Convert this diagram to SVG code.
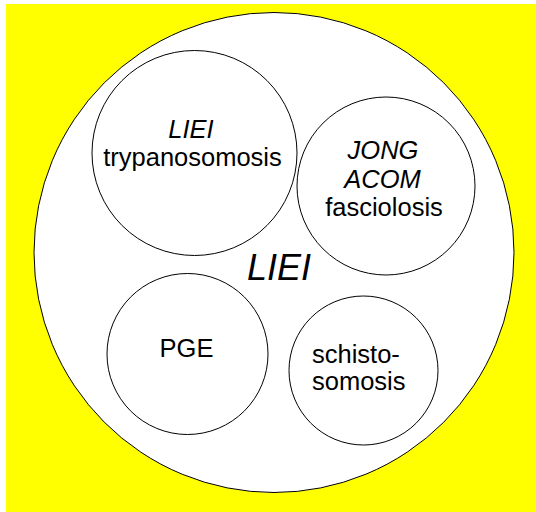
<svg xmlns="http://www.w3.org/2000/svg" width="536" height="512" viewBox="0 0 536 512">
<style>
.c{fill:#fff;stroke:#000;stroke-width:1}
.t{font-family:"Liberation Sans",Arial,sans-serif;font-size:25.5px;fill:#000;text-anchor:middle}
.i{font-style:italic}
</style>
<rect x="0" y="0" width="536" height="512" fill="#fff"/>
<rect x="6" y="4" width="530" height="508" fill="#ffff00"/>
<g id="liei-main">
<circle class="c" cx="274" cy="252.5" r="240"/>
<text class="t i" x="279" y="280" style="font-size:36px">LIEI</text>
</g>
<g id="trypanosomosis">
<circle class="c" cx="194.5" cy="153" r="102.5"/>
<text class="t i" x="191" y="138">LIEI</text>
<text class="t" x="192.5" y="166">trypanosomosis</text>
</g>
<g id="fasciolosis">
<circle class="c" cx="386" cy="186" r="89"/>
<text class="t i" x="383" y="159">JONG</text>
<text class="t i" x="382.5" y="188">ACOM</text>
<text class="t" x="384" y="216">fasciolosis</text>
</g>
<g id="pge">
<circle class="c" cx="187.5" cy="354" r="80.5"/>
<text class="t" x="186.5" y="357">PGE</text>
</g>
<g id="schistosomosis">
<circle class="c" cx="363.5" cy="370.5" r="74.5"/>
<text class="t" x="312" y="363" style="text-anchor:start">schisto-</text>
<text class="t" x="312" y="390" style="text-anchor:start">somosis</text>
</g>
<g id="connectors"></g>
</svg>
